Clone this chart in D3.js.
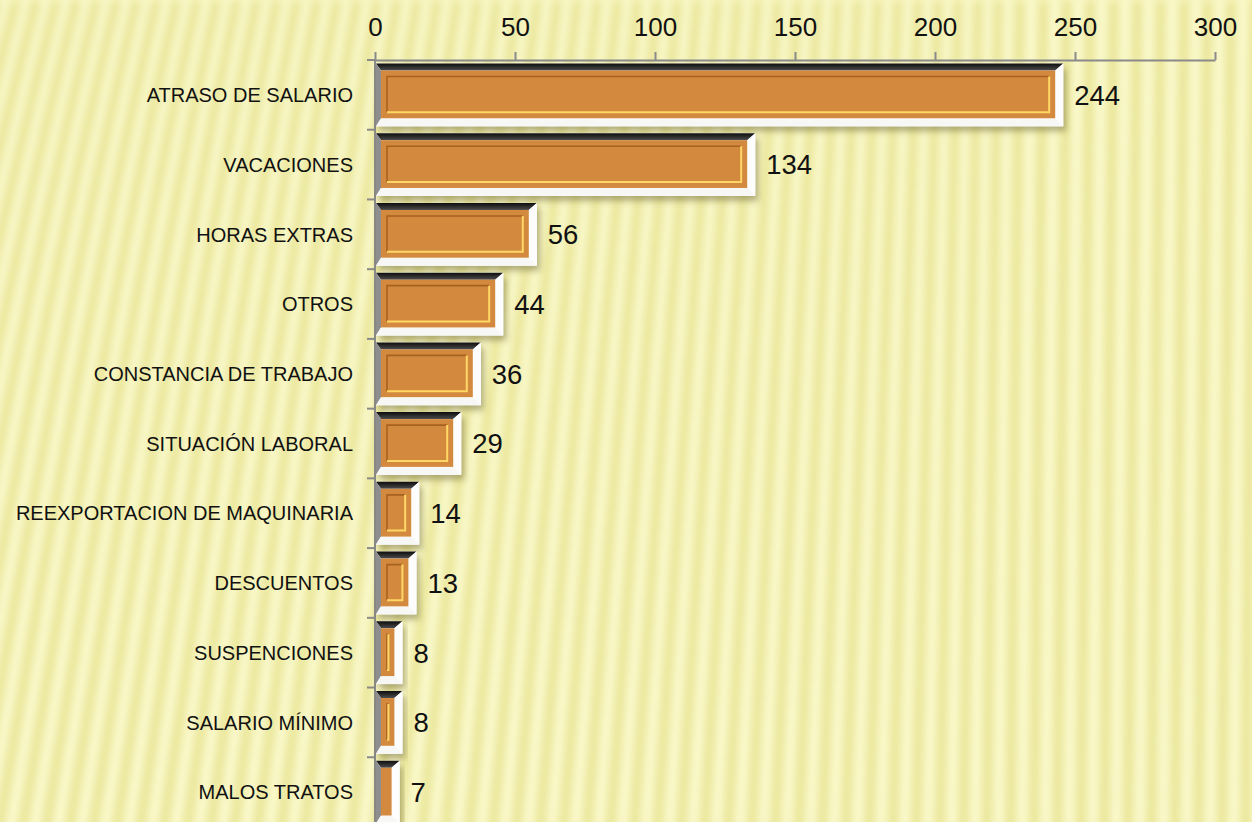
<!DOCTYPE html>
<html><head><meta charset="utf-8">
<script src="https://cdn.jsdelivr.net/npm/d3@7"></script>
<style>body{margin:0;overflow:hidden;background:#f9f7bf} svg{display:block}</style>
</head><body><svg id="c" width="1252" height="822"></svg>
<script>
const categories = ["ATRASO DE SALARIO","VACACIONES","HORAS EXTRAS","OTROS","CONSTANCIA DE TRABAJO","SITUACIÓN LABORAL","REEXPORTACION DE MAQUINARIA","DESCUENTOS","SUSPENCIONES","SALARIO MÍNIMO","MALOS TRATOS"];
const values = [244,134,56,44,36,29,14,13,8,8,7];
const tickValues = [0,50,100,150,200,250,300];

const W = 1252, H = 822;
const svg = d3.select("#c");
const defs = svg.append("defs");

const f1 = defs.append("filter").attr("id","blur").attr("filterUnits","userSpaceOnUse")
  .attr("x",-50).attr("y",-50).attr("width",W+100).attr("height",H+100);
f1.append("feGaussianBlur").attr("stdDeviation",5);
const sh = defs.append("filter").attr("id","shadow").attr("x","-10%").attr("y","-20%").attr("width","130%").attr("height","160%");
sh.append("feDropShadow").attr("dx",3).attr("dy",5).attr("stdDeviation",3).attr("flood-color","#5e5828").attr("flood-opacity",0.45);
const tg = defs.append("linearGradient").attr("id","topbev").attr("x1",0).attr("y1",0).attr("x2",0).attr("y2",1);
tg.append("stop").attr("offset","0%").attr("stop-color","#0d0d0d");
tg.append("stop").attr("offset","100%").attr("stop-color","#4d4d4d");

// background stripes
svg.append("rect").attr("width",W).attr("height",H).attr("fill","#f9f7c3");
const bg = svg.append("g").attr("filter","url(#blur)");
const period = 23.5;
function stripePath(x0){
  const slope = 0.16*Math.max(0, 1 - x0/1000) + 0.01;
  const pts = d3.range(0, H+41, 41).map(yy => [x0 + slope*(H - yy) + 100*slope*Math.pow(1 - yy/H, 3), yy]);
  return d3.line().curve(d3.curveBasis)(pts);
}
d3.range(-8, 58).forEach(i => {
  bg.append("path").attr("d", stripePath(i*period)).attr("fill","none")
    .attr("stroke","#e9e596").attr("stroke-width",11);
  bg.append("path").attr("d", stripePath(i*period + period/2)).attr("fill","none")
    .attr("stroke","#fdfcd3").attr("stroke-width",7);
});

// scales
const x = d3.scaleLinear().domain([0,300]).range([375,1215]);
const y = d3.scaleBand().domain(categories).range([60, 827]).paddingInner(0.1).paddingOuter(0.05);

// top axis
const axT = svg.append("g").attr("transform","translate(0,60)")
  .call(d3.axisTop(x).tickValues(tickValues).tickSize(8).tickSizeOuter(0).tickPadding(16));
axT.select(".domain").attr("stroke","#8a8a8a").attr("stroke-width",2);
axT.selectAll(".tick line").attr("stroke","#8a8a8a").attr("stroke-width",2);
axT.selectAll(".tick text").attr("fill","#111").style("font-family","'Liberation Sans', Arial, sans-serif").style("font-size","26px");

// left axis (ticks at band boundaries)
const axL = svg.append("g");
axL.append("line").attr("x1",x(0)).attr("x2",x(0)).attr("y1",60).attr("y2",H+10).attr("stroke","#8a8a8a").attr("stroke-width",2);
d3.range(categories.length+1).forEach(i => {
  const yy = 60 + i*y.step();
  axL.append("line").attr("x1",x(0)-8).attr("x2",x(0)).attr("y1",yy).attr("y2",yy).attr("stroke","#8a8a8a").attr("stroke-width",2);
});

// bars
const t=7, l=5, r=8, b=8, ins=6;
categories.forEach((c,i) => {
  const v = values[i];
  const w = x(v) - x(0) + 4, h = y.bandwidth();
  const g = svg.append("g").attr("transform",`translate(${x(0)+1},${y(c)})`);
  g.append("rect").attr("width",w).attr("height",h).attr("fill","#fff").attr("filter","url(#shadow)");
  g.append("path").attr("d",`M0,0L${w},0L${w-r},${t}L${l},${t}Z`).attr("fill","url(#topbev)");
  g.append("path").attr("d",`M0,0L${l},${t}L${l},${h-b}L0,${h}Z`).attr("fill","#8e8e8e");
  g.append("path").attr("d",`M${w},0L${w},${h}L${w-r},${h-b}L${w-r},${t}Z`).attr("fill","#fdfdfd");
  g.append("path").attr("d",`M0,${h}L${w},${h}L${w-r},${h-b}L${l},${h-b}Z`).attr("fill","#f7f7f5");
  const fx = l, fy = t, fw = w-l-r, fh = h-t-b;
  g.append("rect").attr("x",fx).attr("y",fy).attr("width",fw).attr("height",fh).attr("fill","#d38a3e");
  const ix0 = fx+ins, ix1 = fx+fw-ins, iy0 = fy+ins, iy1 = fy+fh-ins;
  if (ix1 - ix0 > 0.5) {
    g.append("path").attr("d",`M${ix0},${iy1}L${ix0},${iy0}L${ix1},${iy0}`).attr("fill","none").attr("stroke","#a8621f").attr("stroke-width",1.6);
    g.append("path").attr("d",`M${ix0},${iy1}L${ix1},${iy1}L${ix1},${iy0}`).attr("fill","none").attr("stroke","#ffd766").attr("stroke-width",2);
  }
  svg.append("text").attr("x", x(v)+16).attr("y", y(c)+h/2).attr("dy","0.36em")
    .attr("fill","#111").style("font-family","'Liberation Sans', Arial, sans-serif").style("font-size","27.5px")
    .text(v);
  svg.append("text").attr("x", 353).attr("y", y(c)+h/2).attr("dy","0.36em").attr("text-anchor","end")
    .attr("fill","#111").style("font-family","'Liberation Sans', Arial, sans-serif").style("font-size","20px")
    .text(c);
});
</script></body></html>
